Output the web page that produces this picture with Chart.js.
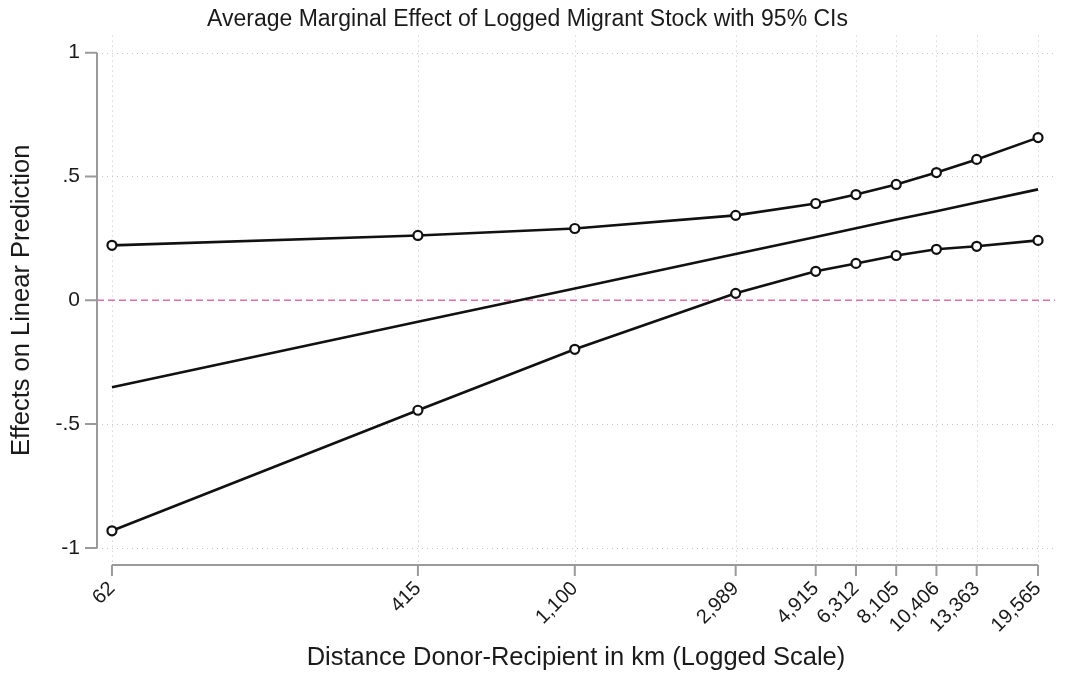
<!DOCTYPE html>
<html>
<head>
<meta charset="utf-8">
<script src="https://cdn.jsdelivr.net/npm/chart.js@4/dist/chart.umd.min.js"></script>
<style>
  html, body { margin: 0; padding: 0; background: #fff; }
  #wrap { width: 1070px; height: 677px; }
</style>
</head>
<body>
<div id="wrap"><canvas id="chart" width="1070" height="677"></canvas></div>
<script>
// distances (km) at which the margins were evaluated
const distances = [62, 415, 1100, 2989, 4915, 6312, 8105, 10406, 13363, 19565];
const distanceLabels = ['62', '415', '1,100', '2,989', '4,915', '6,312', '8,105', '10,406', '13,363', '19,565'];

const upperCI = [0.222, 0.262, 0.290, 0.343, 0.391, 0.427, 0.468, 0.516, 0.569, 0.657];
const lowerCI = [-0.931, -0.444, -0.198, 0.028, 0.117, 0.149, 0.181, 0.206, 0.218, 0.242];
const marginalEffect = [-0.351, -0.087, 0.048, 0.187, 0.256, 0.291, 0.326, 0.360, 0.395, 0.448];

const yTicks = [-1, -0.5, 0, 0.5, 1];
const yTickLabels = ['-1', '-.5', '0', '.5', '1'];

const FONT = "'Liberation Sans', Arial, sans-serif";

function toPoints(vals) {
    return distances.map((d, i) => ({ x: d, y: vals[i] }));
}

// stata-style grid, zero line and short axis lines
const stataAxes = {
    id: 'stataAxes',
    beforeDatasetsDraw(chart) {
        const ctx = chart.ctx;
        const area = chart.chartArea;
        const xs = chart.scales.x;
        const ys = chart.scales.y;
        ctx.save();

        // dotted grid
        ctx.strokeStyle = '#c4c4c4';
        ctx.lineWidth = 1;
        ctx.setLineDash([1, 4]);
        distances.forEach(d => {
            const px = Math.round(xs.getPixelForValue(d)) + 0.5;
            ctx.beginPath();
            ctx.moveTo(px, area.top);
            ctx.lineTo(px, area.bottom);
            ctx.stroke();
        });
        yTicks.forEach(v => {
            if (v === 0) return;
            const py = Math.round(ys.getPixelForValue(v)) + 0.5;
            ctx.beginPath();
            ctx.moveTo(area.left, py);
            ctx.lineTo(area.right, py);
            ctx.stroke();
        });

        // reference line at zero
        ctx.strokeStyle = '#dd6fa6';
        ctx.lineWidth = 1.5;
        ctx.setLineDash([7, 4]);
        const py0 = ys.getPixelForValue(0);
        ctx.beginPath();
        ctx.moveTo(area.left, py0);
        ctx.lineTo(area.right, py0);
        ctx.stroke();

        // axis lines only across the tick range
        ctx.setLineDash([]);
        ctx.strokeStyle = '#9a9a9a';
        ctx.lineWidth = 2;
        const yTop = ys.getPixelForValue(yTicks[yTicks.length - 1]);
        const yBot = ys.getPixelForValue(yTicks[0]);
        ctx.beginPath();
        ctx.moveTo(area.left, yTop);
        ctx.lineTo(area.left, yBot);
        yTicks.forEach(v => {
            const py = ys.getPixelForValue(v);
            ctx.moveTo(area.left, py);
            ctx.lineTo(area.left - 12, py);
        });
        ctx.stroke();

        const xL = xs.getPixelForValue(distances[0]);
        const xR = xs.getPixelForValue(distances[distances.length - 1]);
        ctx.beginPath();
        ctx.moveTo(xL, area.bottom);
        ctx.lineTo(xR, area.bottom);
        distances.forEach(d => {
            const px = xs.getPixelForValue(d);
            ctx.moveTo(px, area.bottom);
            ctx.lineTo(px, area.bottom + 11);
        });
        ctx.stroke();

        ctx.restore();
    }
};

const ciStyle = {
    borderColor: '#111',
    borderWidth: 2.6,
    pointRadius: 4.5,
    pointBorderWidth: 2.2,
    pointBorderColor: '#111',
    pointBackgroundColor: '#fff',
    tension: 0
};

new Chart(document.getElementById('chart'), {
    type: 'line',
    data: {
        datasets: [
            Object.assign({ label: 'Upper 95% CI', data: toPoints(upperCI) }, ciStyle),
            {
                label: 'Average marginal effect',
                data: toPoints(marginalEffect),
                borderColor: '#111',
                borderWidth: 2.6,
                pointRadius: 0,
                tension: 0
            },
            Object.assign({ label: 'Lower 95% CI', data: toPoints(lowerCI) }, ciStyle)
        ]
    },
    options: {
        responsive: false,
        animation: false,
        layout: { padding: { left: 0, right: 15, top: 0, bottom: 0 } },
        plugins: {
            legend: { display: false },
            tooltip: { enabled: false },
            title: {
                display: true,
                text: 'Average Marginal Effect of Logged Migrant Stock with 95% CIs',
                color: '#1a1a1a',
                font: { family: FONT, size: 23, weight: 'normal' },
                padding: { top: 6, bottom: 2 }
            }
        },
        scales: {
            x: {
                type: 'logarithmic',
                min: 56.5,
                max: 21740,
                afterBuildTicks: (scale) => {
                    scale.ticks = distances.map(v => ({ value: v }));
                },
                afterFit: (scale) => { scale.height = 112; },
                grid: { display: false, drawTicks: false },
                border: { display: false },
                ticks: {
                    autoSkip: false,
                    minRotation: 45,
                    maxRotation: 45,
                    padding: 12,
                    color: '#1a1a1a',
                    font: { family: FONT, size: 20 },
                    callback: (value) => {
                        const i = distances.indexOf(value);
                        return i >= 0 ? distanceLabels[i] : '';
                    }
                },
                title: {
                    display: true,
                    text: 'Distance Donor-Recipient in km (Logged Scale)',
                    color: '#1a1a1a',
                    font: { family: FONT, size: 25.5 },
                    padding: { top: -3, bottom: 4 }
                }
            },
            y: {
                min: -1.069,
                max: 1.069,
                afterBuildTicks: (scale) => {
                    scale.ticks = yTicks.map(v => ({ value: v }));
                },
                afterFit: (scale) => { scale.width = 97; },
                grid: { display: false, drawTicks: false },
                border: { display: false },
                ticks: {
                    padding: 17,
                    color: '#1a1a1a',
                    font: { family: FONT, size: 21 },
                    callback: (value) => {
                        const i = yTicks.indexOf(value);
                        return i >= 0 ? yTickLabels[i] : '';
                    }
                },
                title: {
                    display: true,
                    text: 'Effects on Linear Prediction',
                    color: '#1a1a1a',
                    font: { family: FONT, size: 25.5 },
                    padding: { top: 7, bottom: 4 }
                }
            }
        }
    },
    plugins: [stataAxes]
});
</script>
</body>
</html>
